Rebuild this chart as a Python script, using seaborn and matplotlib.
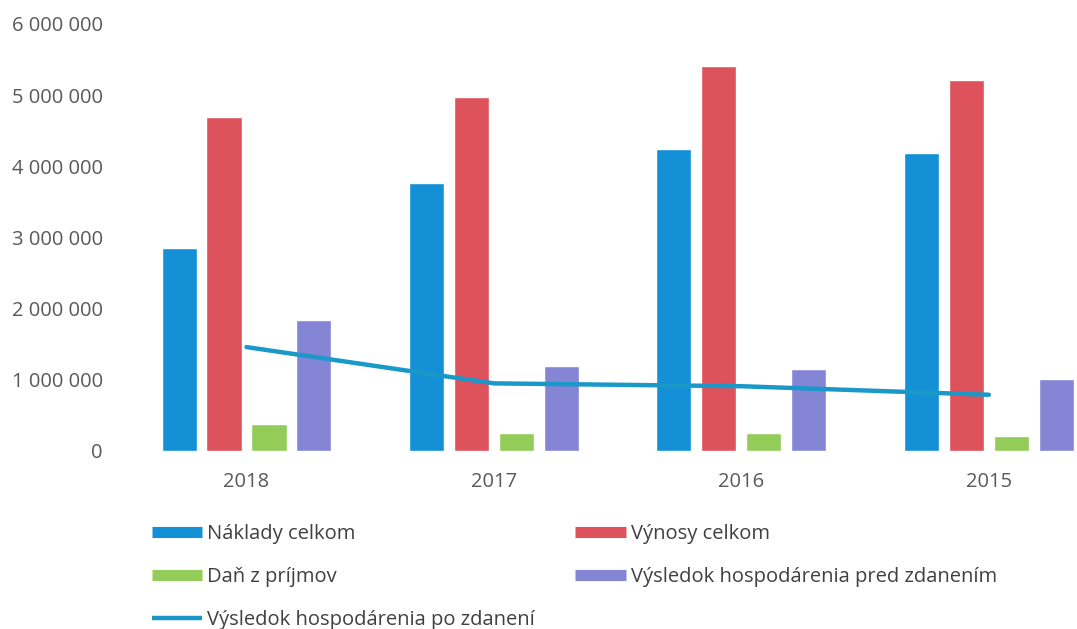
import matplotlib
matplotlib.use("Agg")
import matplotlib.pyplot as plt
import seaborn as sns
import pandas as pd
from matplotlib.ticker import FuncFormatter
from matplotlib.lines import Line2D

years = ["2018", "2017", "2016", "2015"]
naklady = [2850000, 3760000, 4240000, 4190000]
vynosy = [4690000, 4970000, 5410000, 5210000]
dan = [380000, 250000, 250000, 210000]
vh_pred = [1840000, 1190000, 1150000, 1010000]
vh_po = [1460000, 950000, 910000, 790000]

bar_series = ["Náklady celkom", "Výnosy celkom", "Daň z príjmov",
              "Výsledok hospodárenia pred zdanením"]
line_label = "Výsledok hospodárenia po zdanení"
colors = ["#1390d6", "#de525c", "#93cc58", "#8585d6"]
line_color = "#1a99c8"

rows = []
for name, vals in zip(bar_series, [naklady, vynosy, dan, vh_pred]):
    for y, v in zip(years, vals):
        rows.append({"year": y, "series": name, "value": v})
df = pd.DataFrame(rows)
df_line = pd.DataFrame({"year": years, "value": vh_po})

sns.set_style("white")
plt.rcParams["font.family"] = ["Open Sans", "DejaVu Sans"]

fig = plt.figure(figsize=(10.77, 6.29), dpi=100)
ax = fig.add_axes([0.114, 0.283, 0.919, 0.679])

sns.barplot(data=df, x="year", y="value", hue="series", order=years,
            hue_order=bar_series, palette=colors, width=0.727, gap=0.22,
            saturation=1, ax=ax, legend=False)
sns.lineplot(data=df_line, x="year", y="value", color=line_color,
             linewidth=3.2, ax=ax, legend=False, zorder=5)

ax.set_xlim(-0.5, 3.5)
ax.set_ylim(0, 6000000)
ax.set_yticks(range(0, 6000001, 1000000))
ax.yaxis.set_major_formatter(FuncFormatter(lambda v, p: f"{int(v):,}".replace(",", " ")))
ax.set_xlabel("")
ax.set_ylabel("")
for s in ax.spines.values():
    s.set_visible(False)
ax.tick_params(axis="y", length=0, pad=14.5, labelsize=14.5, labelcolor="#595959")
ax.tick_params(axis="x", length=0, pad=15, labelsize=14.5, labelcolor="#595959")

def bar_handle(c):
    return Line2D([0], [0], color=c, lw=8, solid_capstyle="butt")

h = [bar_handle(colors[0]),
     bar_handle(colors[2]),
     Line2D([0], [0], color=line_color, lw=3.2, solid_capstyle="butt"),
     bar_handle(colors[1]),
     bar_handle(colors[3])]
labels = [bar_series[0], bar_series[2], line_label, bar_series[1], bar_series[3]]
fig.legend(h, labels, ncol=2, loc="upper left", bbox_to_anchor=(0.141, 0.167),
           frameon=False, fontsize=14.5, handlelength=2.5, handletextpad=0.25,
           columnspacing=2.0, labelspacing=1.14, labelcolor="#404040",
           borderpad=0, borderaxespad=0)

fig.savefig("out.png", dpi=100, facecolor="white")
